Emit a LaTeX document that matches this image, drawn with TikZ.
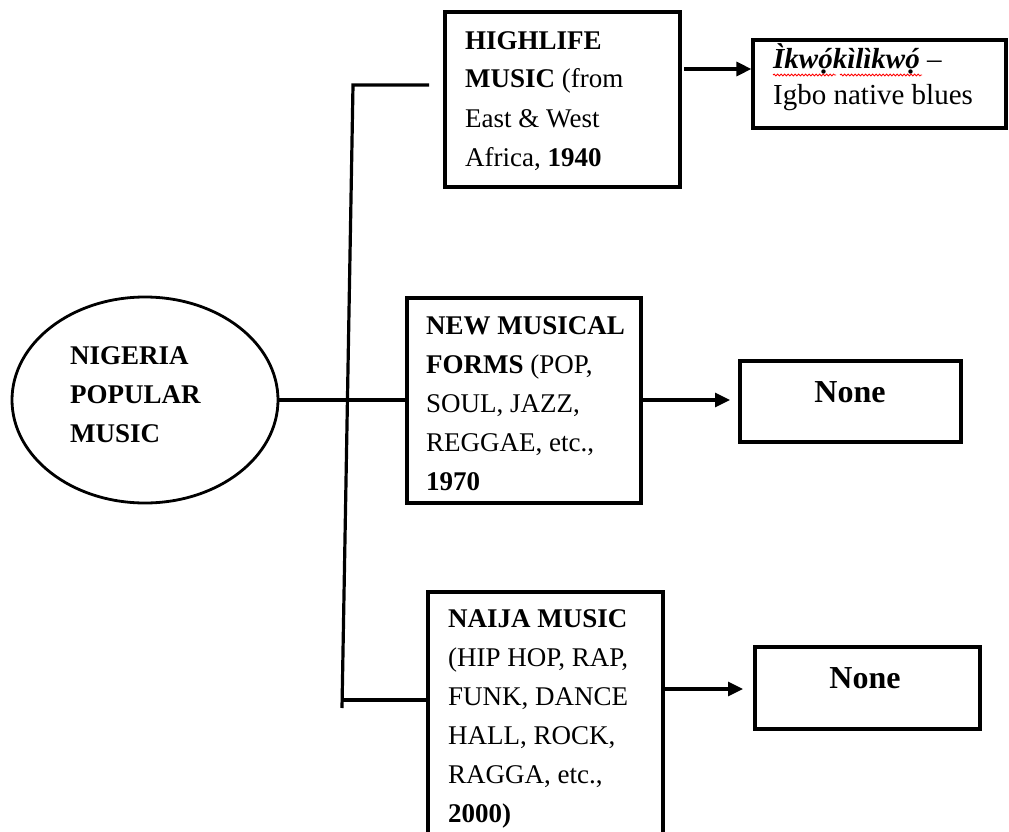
\documentclass[tikz,border=0pt]{standalone}
\usepackage{fontspec}
\setmainfont{Liberation Serif}
\usetikzlibrary{arrows.meta,decorations.pathmorphing,shapes.geometric}
\newcommand\odotacute{\ooalign{ọ\cr\hidewidth\kern1.5pt ´\hidewidth\cr}}
\begin{document}
\begin{tikzpicture}[x=1pt,y=-1pt,
  box/.style={draw, line width=3.2pt, rectangle, inner sep=0pt},
  txt/.style={inner sep=0pt, align=left, font=\fontsize{27}{39}\selectfont, anchor=base west},
  nonetxt/.style={inner sep=0pt, font=\fontsize{32}{38}\selectfont\bfseries, anchor=base},
  link/.style={line width=3.2pt},
  arr/.style={line width=3.2pt, -{Triangle[length=15pt,width=14pt]}},
  squiggle/.style={draw=red, line width=0.8pt, decorate, decoration={snake, amplitude=1pt, segment length=3.5pt}}
]
\useasboundingbox (0,0) rectangle (1009,832);
\clip (0,0) rectangle (1009,832);

% ellipse
\node[draw, ellipse, line width=2.8pt, minimum width=266pt, minimum height=206pt, inner sep=0pt] (np) at (145,400) {};
\node[txt] (npt) at (70,442) {\textbf{NIGERIA}\\\textbf{POPULAR}\\\textbf{MUSIC}};

% boxes
\node[box, minimum width=235pt, minimum height=175pt] (hl) at (562.5,99.5) {};
\node[txt] (hlt) at (465,166) {\textbf{HIGHLIFE}\\\textbf{MUSIC} (from\\East \& West\\Africa, \textbf{1940}};

\node[box, minimum width=253pt, minimum height=88pt] (ik) at (879.5,84) {};
\node[txt, font=\fontsize{29}{36}\selectfont] (ikt) at (773,105) {\textbf{\textit{Ìkw\odotacute kìlìkw\odotacute}} –\\Igbo native blues};
\draw[squiggle] (773,75) -- (836,75);
\draw[squiggle] (840,75) -- (922,75);

\node[box, minimum width=234pt, minimum height=205pt] (nm) at (524,400.5) {};
\node[txt] (nmt) at (426,490) {\textbf{NEW MUSICAL}\\\textbf{FORMS} (POP,\\SOUL, JAZZ,\\REGGAE, etc.,\\\textbf{1970}};

\node[box, minimum width=221pt, minimum height=81pt] (n1) at (850.5,401.5) {};
\node[nonetxt] (n1t) at (850,402) {None};

\node[box, minimum width=235pt, minimum height=308pt] (nj) at (545.5,746) {};
\node[txt] (njt) at (448,822) {\textbf{NAIJA MUSIC}\\(HIP HOP, RAP,\\FUNK, DANCE\\HALL, ROCK,\\RAGGA, etc.,\\\textbf{2000)}};

\node[box, minimum width=225pt, minimum height=82pt] (n2) at (867.5,688) {};
\node[nonetxt] (n2t) at (865,688) {None};

% trunk
\coordinate (stub) at (429,85);
\coordinate (tTop) at (353,85);
\coordinate (tBot) at (342,708);
\coordinate (tJ) at (342.5,700);
\draw[link, line join=miter] (stub) -- (tTop) -- (tBot);
\draw[link] (tJ) -- (tJ -| nj.west);
\draw[link] (np.east) -- (np.east -| nm.west);

% arrows
\coordinate (a1s) at (684,69);
\draw[arr] (a1s) -- (a1s -| ik.west);
\coordinate (a2e) at (730,400);
\draw[arr] (nm.east |- a2e) -- (a2e);
\coordinate (a3e) at (743,689);
\draw[arr] (nj.east |- a3e) -- (a3e);
\end{tikzpicture}
\end{document}
